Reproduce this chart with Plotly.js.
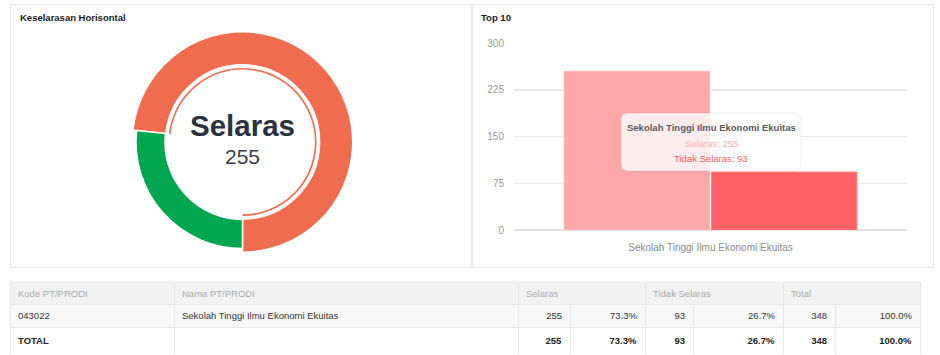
<!DOCTYPE html>
<html>
<head>
<meta charset="utf-8">
<script src="https://cdn.plot.ly/plotly-3.0.1.min.js"></script>
<style>
  html, body { margin: 0; padding: 0; background: #ffffff; }
  #chart { width: 940px; height: 355px; }
</style>
</head>
<body>
<div id="chart"></div>
<script>
// ---------------- DATA ----------------
const categories = ["Sekolah Tinggi Ilmu Ekonomi Ekuitas"];
const selaras = [255];
const tidakSelaras = [93];
const seriesNames = ["Selaras", "Tidak Selaras"];
const kodeList = ["043022"];
const namaList = ["Sekolah Tinggi Ilmu Ekonomi Ekuitas"];
const headerLabels = ["Kode PT/PRODI", "Nama PT/PRODI", "Selaras", "Tidak Selaras", "Total"];
const totalLabel = "TOTAL";
const yTicks = [0, 75, 150, 225, 300];
const leftTitle = "Keselarasan Horisontal";
const rightTitle = "Top 10";

// ---------------- HELPERS ----------------
const W = 940, H = 355;
const FONT = "Liberation Sans, Arial, Helvetica, sans-serif";
const px = x => x / W;
const py = y => 1 - y / H;
const sum = a => a.reduce((s, v) => s + v, 0);
const pct = (v, t) => (100 * v / t).toFixed(1) + "%";

const totSel = sum(selaras), totTid = sum(tidakSelaras), totAll = totSel + totTid;

// donut data (order: Tidak Selaras first, Selaras second, clockwise from 6 o'clock)
const donutLabels = [seriesNames[1], seriesNames[0]];
const donutValues = [totTid, totSel];

const RED = "#f06c4f", GREEN = "#00a650";
const cx = 242.5, cy = 142;
function ring(R, hole, colors, lineWidths) {
  return {
    type: "pie", labels: donutLabels, values: donutValues, sort: false,
    direction: "clockwise", rotation: 180, hole: hole,
    textinfo: "none", hoverinfo: "skip", showlegend: false,
    marker: { colors: colors, line: { color: "#ffffff", width: lineWidths } },
    domain: { x: [px(cx - R), px(cx + R)], y: [py(cy + R), py(cy - R)] }
  };
}
const T = "rgba(0,0,0,0)";
const traces = [
  ring(110.2, 0.70, [T, RED], [0, 1.5]),
  ring(106.5, 0.728, [GREEN, T], [1.5, 0]),
  ring(74, 0.978, [T, RED], [0, 0])
];

// bars
traces.push({
  type: "bar", x: categories, y: selaras, name: seriesNames[0],
  marker: { color: "#ffa7a9", line: { color: "#ffb8ba", width: 1 } },
  hoverinfo: "skip", showlegend: false
});
traces.push({
  type: "bar", x: categories, y: tidakSelaras, name: seriesNames[1],
  marker: { color: "#ff6166", line: { color: "#ff7a7e", width: 1 } },
  hoverinfo: "skip", showlegend: false
});

// table: header row (grouped columns)
const lineC = "#e6e6e6";
traces.push({
  type: "table",
  domain: { x: [px(10), px(920)], y: [py(330), py(282)] },
  columnwidth: [164, 344, 127, 138, 137],
  header: {
    values: headerLabels.map(h => [h]),
    align: "left", height: 22,
    fill: { color: "#f2f2f2" }, line: { color: lineC, width: 1 },
    font: { family: FONT, size: 9.5, color: "#ababab" }
  },
  cells: { values: [] }
});
// table: body rows (row 1 + total)
const rowCells = [
  kodeList[0], namaList[0],
  String(selaras[0]), pct(selaras[0], selaras[0] + tidakSelaras[0]),
  String(tidakSelaras[0]), pct(tidakSelaras[0], selaras[0] + tidakSelaras[0]),
  String(selaras[0] + tidakSelaras[0]), pct(selaras[0] + tidakSelaras[0], selaras[0] + tidakSelaras[0])
];
const totalCells = [
  "<b>" + totalLabel + "</b>", "",
  "<b>" + totSel + "</b>", "<b>" + pct(totSel, totAll) + "</b>",
  "<b>" + totTid + "</b>", "<b>" + pct(totTid, totAll) + "</b>",
  "<b>" + totAll + "</b>", "<b>" + pct(totAll, totAll) + "</b>"
];
const aligns = ["left", "left", "right", "right", "right", "right", "right", "right"];
traces.push({
  type: "table",
  domain: { x: [px(10), px(920)], y: [py(354), py(304)] },
  columnwidth: [164, 344, 52, 75, 48, 90, 52, 85],
  header: {
    values: rowCells.map(v => [v]),
    align: aligns, height: 23,
    fill: { color: "#f9f9f9" }, line: { color: lineC, width: 1 },
    font: { family: FONT, size: 9.5, color: "#333333" }
  },
  cells: {
    values: totalCells.map(v => [v]),
    align: aligns, height: 22,
    fill: { color: "#ffffff" }, line: { color: lineC, width: 1 },
    font: { family: FONT, size: 9.5, color: "#222222" }
  }
});

// tooltip box (rounded rectangle) in paper coords
function roundRect(x0, y0, x1, y1, r) {
  const X = v => px(v).toFixed(5), Y = v => py(v).toFixed(5);
  return "M " + X(x0 + r) + "," + Y(y0) +
    " L " + X(x1 - r) + "," + Y(y0) +
    " Q " + X(x1) + "," + Y(y0) + " " + X(x1) + "," + Y(y0 + r) +
    " L " + X(x1) + "," + Y(y1 - r) +
    " Q " + X(x1) + "," + Y(y1) + " " + X(x1 - r) + "," + Y(y1) +
    " L " + X(x0 + r) + "," + Y(y1) +
    " Q " + X(x0) + "," + Y(y1) + " " + X(x0) + "," + Y(y1 - r) +
    " L " + X(x0) + "," + Y(y0 + r) +
    " Q " + X(x0) + "," + Y(y0) + " " + X(x0 + r) + "," + Y(y0) + " Z";
}

const shapes = [
  { type: "rect", xref: "paper", yref: "paper", x0: px(10.5), x1: px(471.5), y0: py(267.5), y1: py(4.5),
    line: { color: "#e8e8e8", width: 1 }, fillcolor: T, layer: "below" },
  { type: "rect", xref: "paper", yref: "paper", x0: px(472.5), x1: px(933.5), y0: py(267.5), y1: py(4.5),
    line: { color: "#e8e8e8", width: 1 }, fillcolor: T, layer: "below" },
  { type: "path", xref: "paper", yref: "paper", path: roundRect(621, 113, 801, 171, 7),
    fillcolor: "rgba(255,255,255,0.80)", line: { color: "rgba(0,0,0,0.07)", width: 1 }, layer: "above" }
];

const annotations = [
  { text: "<b>" + leftTitle + "</b>", x: px(18), y: py(17), xanchor: "left", yanchor: "middle",
    font: { family: FONT, size: 9.5, color: "#1a1a1a" } },
  { text: "<b>" + rightTitle + "</b>", x: px(479), y: py(17), xanchor: "left", yanchor: "middle",
    font: { family: FONT, size: 9.5, color: "#1a1a1a" } },
  { text: "<b>" + seriesNames[0] + "</b>", x: px(cx), y: py(125.5), xanchor: "center", yanchor: "middle",
    font: { family: FONT, size: 29.5, color: "#2b3140" } },
  { text: String(totSel), x: px(cx), y: py(156), xanchor: "center", yanchor: "middle",
    font: { family: FONT, size: 21, color: "#3a3f4a" } },
  { text: "<b>" + categories[0] + "</b>", x: px(711), y: py(127.5), xanchor: "center", yanchor: "middle",
    font: { family: FONT, size: 9.5, color: "#5a5a5a" } },
  { text: seriesNames[0] + ": " + selaras[0], x: px(711), y: py(143), xanchor: "center", yanchor: "middle",
    font: { family: FONT, size: 9.5, color: "#ffadb2" } },
  { text: seriesNames[1] + ": " + tidakSelaras[0], x: px(711), y: py(158), xanchor: "center", yanchor: "middle",
    font: { family: FONT, size: 9.5, color: "#ff5a60" } }
].map(a => Object.assign({ xref: "paper", yref: "paper", showarrow: false }, a));

const layout = {
  width: W, height: H,
  margin: { l: 0, r: 0, t: 0, b: 0, pad: 0 },
  paper_bgcolor: "#ffffff", plot_bgcolor: "rgba(0,0,0,0)",
  showlegend: false,
  barmode: "group", bargap: 0.25, bargroupgap: 0.014,
  font: { family: FONT },
  xaxis: {
    domain: [px(514), px(907)], showgrid: false, zeroline: false, showline: false,
    ticks: "outside", ticklen: 8, tickcolor: T,
    tickfont: { family: FONT, size: 10, color: "#8a8a8a" }, fixedrange: true
  },
  yaxis: {
    domain: [py(230), py(43.3)], range: [0, 300], tickvals: yTicks,
    showgrid: true, gridcolor: "#ebebeb", gridwidth: 1.3,
    zeroline: true, zerolinecolor: "#e3e3e3", zerolinewidth: 1.3, showline: false,
    ticks: "outside", ticklen: 7, tickcolor: T,
    tickfont: { family: FONT, size: 10, color: "#9a9a9a" }, fixedrange: true
  },
  shapes: shapes,
  annotations: annotations
};

Plotly.newPlot("chart", traces, layout, { displayModeBar: false, staticPlot: true });
</script>
</body>
</html>
